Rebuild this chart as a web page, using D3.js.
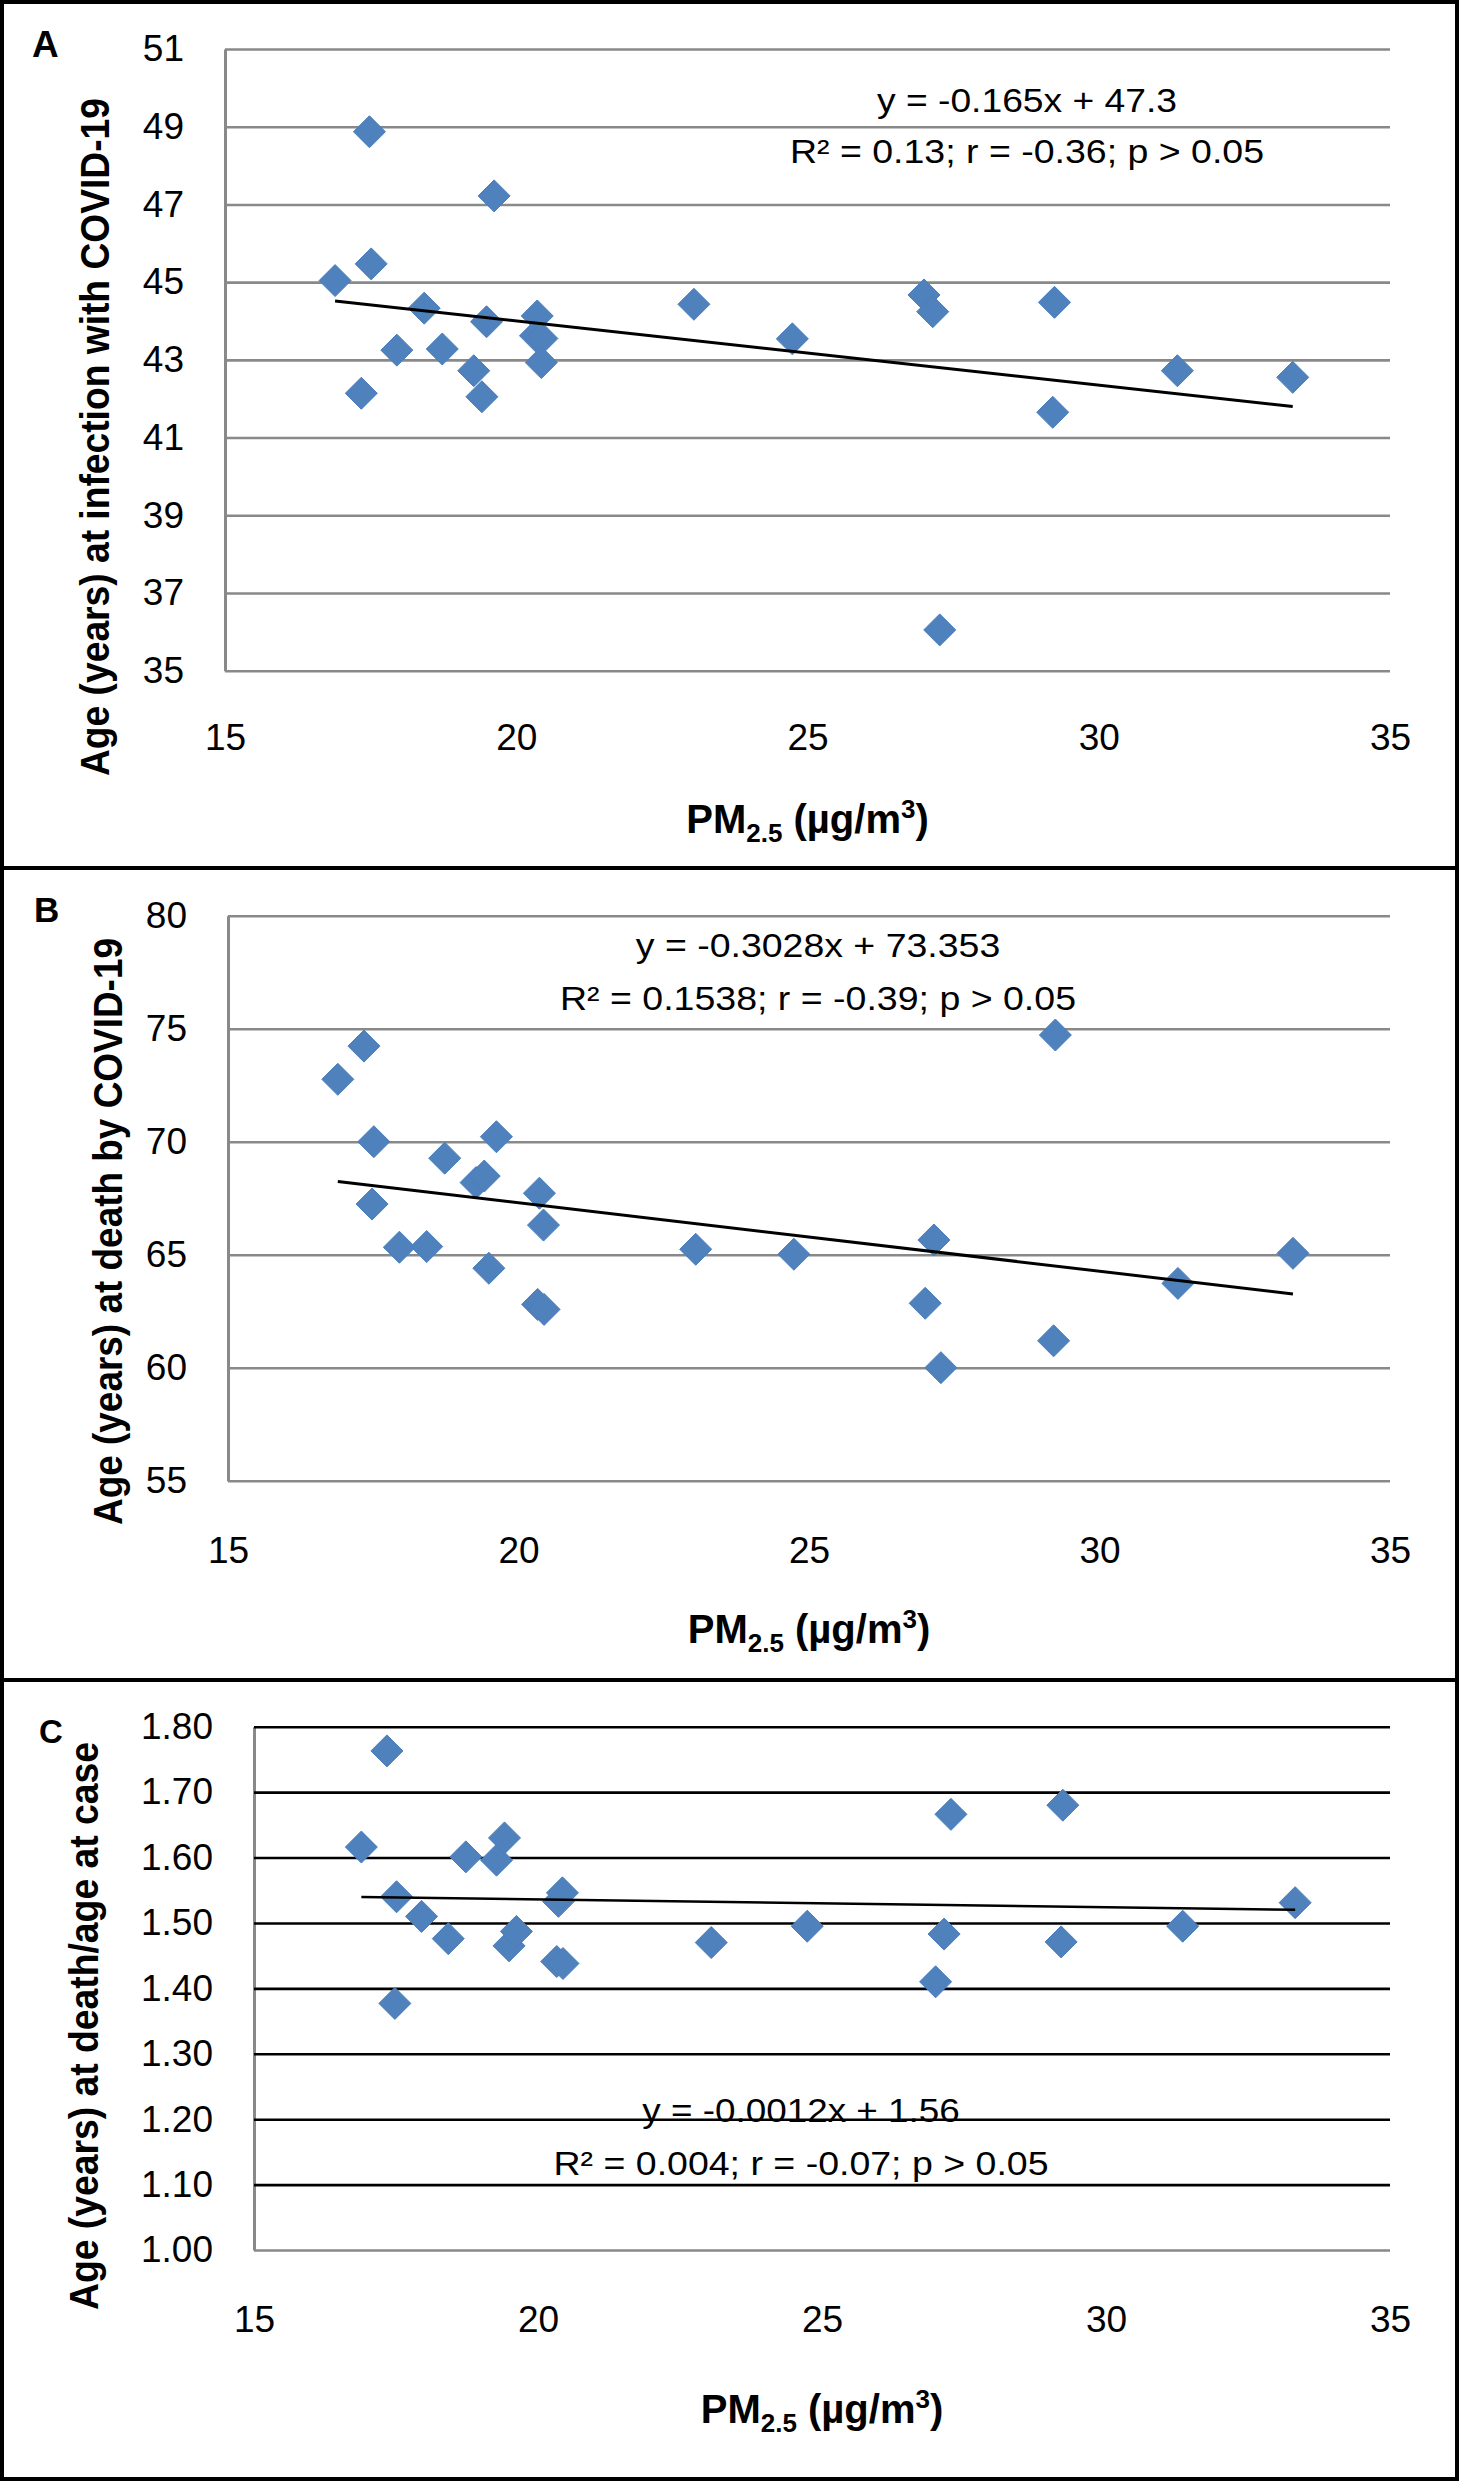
<!DOCTYPE html>
<html><head><meta charset="utf-8">
<script src="https://cdn.jsdelivr.net/npm/d3@7/dist/d3.min.js"></script>
<style>body{margin:0;background:#fff}svg{display:block}</style>
</head><body>
<script>
// ---------------- DATA ----------------
const pm25 = [16.89, 17.34, 17.48, 17.51, 17.95, 18.42, 18.73, 19.27, 19.41, 19.49, 19.62, 20.36, 20.33, 20.44, 20.43, 23.05, 24.74, 27.00, 27.15, 27.27, 29.24, 29.21, 31.35, 33.33];
const ageAtCase = [45.04, 42.14, 48.87, 45.47, 43.25, 44.33, 43.28, 42.72, 42.05, 43.98, 47.22, 44.13, 43.62, 43.55, 42.93, 44.43, 43.54, 44.67, 44.24, 36.05, 44.48, 41.65, 42.72, 42.55];
const ageAtDeath = [72.76, 74.23, 67.24, 70.00, 65.33, 65.36, 69.27, 68.19, 68.48, 64.40, 70.22, 67.72, 62.80, 62.58, 66.31, 65.24, 65.02, 62.85, 65.65, 60.00, 74.72, 61.19, 63.73, 65.06];
const deathToCaseRatio = [1.616, 1.763, 1.377, 1.540, 1.510, 1.476, 1.601, 1.596, 1.630, 1.465, 1.487, 1.533, 1.441, 1.438, 1.546, 1.470, 1.495, 1.410, 1.483, 1.666, 1.680, 1.471, 1.495, 1.531];

const xTicks = [15, 20, 25, 30, 35];
const yTicksA = [35, 37, 39, 41, 43, 45, 47, 49, 51];
const yTicksB = [55, 60, 65, 70, 75, 80];
const yTicksC = [1.0, 1.1, 1.2, 1.3, 1.4, 1.5, 1.6, 1.7, 1.8];

const trendA = [-0.165, 47.3];
const trendB = [-0.3028, 73.353];
const trendC = [-0.0012, 1.56];

const eqA = ["y = -0.165x + 47.3", "R² = 0.13; r = -0.36; p > 0.05"];
const eqB = ["y = -0.3028x + 73.353", "R² = 0.1538; r = -0.39; p > 0.05"];
const eqC = ["y = -0.0012x + 1.56", "R² = 0.004; r = -0.07; p > 0.05"];

const yTitles = ["Age (years) at infection with COVID-19", "Age (years) at death by COVID-19", "Age (years) at death/age at case"];
const panelLabels = ["A", "B", "C"];

// ---------------- LAYOUT ----------------
const W = 1460, H = 2481;
const FONT = "'Liberation Sans', Arial, sans-serif";
const svg = d3.select("body").append("svg").attr("width", W).attr("height", H);
svg.append("rect").attr("width", W).attr("height", H).attr("fill", "#fff");

const panels = [
  {ys: ageAtCase, yDomain: [35, 51], yTicks: yTicksA, fmt: d3.format("d"), trend: trendA, eq: eqA,
   left: 225, right: 1390, top: 49, bottom: 670.7, grid: "#898989",
   eqX: 1027, eqY: [111.7, 163.3], eqW: [300, 474],
   ytX: 109, ytY: 437, ytLen: 678, lab: {x: 32, y: 57, s: 37},
   xTickBase: 750, xTitleY: 833, trendW: 3},
  {ys: ageAtDeath, yDomain: [55, 80], yTicks: yTicksB, fmt: d3.format("d"), trend: trendB, eq: eqB,
   left: 228, right: 1390, top: 915.7, bottom: 1480.7, grid: "#898989",
   eqX: 818, eqY: [956.7, 1010], eqW: [364.5, 516],
   ytX: 122, ytY: 1231.5, ytLen: 587, lab: {x: 34, y: 922, s: 35},
   xTickBase: 1563, xTitleY: 1643, trendW: 3},
  {ys: deathToCaseRatio, yDomain: [1.0, 1.8], yTicks: yTicksC, fmt: d3.format(".2f"), trend: trendC, eq: eqC,
   left: 254, right: 1390, top: 1726.7, bottom: 2250, grid: "#000",
   eqX: 801, eqY: [2121.7, 2175], eqW: [317.5, 495],
   ytX: 98, ytY: 2026, ytLen: 568, lab: {x: 39, y: 1743, s: 33},
   xTickBase: 2332, xTitleY: 2423, trendW: 2.5}
];

const diamond = {draw(ctx, size) { const r = Math.sqrt(size) / 2; ctx.moveTo(0, -r); ctx.lineTo(r, 0); ctx.lineTo(0, r); ctx.lineTo(-r, 0); ctx.closePath(); }};

panels.forEach((p, i) => {
  const w = p.right - p.left, h = p.bottom - p.top;
  const x = d3.scaleLinear().domain([15, 35]).range([0, w]);
  const y = d3.scaleLinear().domain(p.yDomain).range([h, 0]);
  const g = svg.append("g").attr("transform", `translate(${p.left},${p.top})`);

  // y axis with gridlines
  const ya = g.append("g").call(d3.axisLeft(y).tickValues(p.yTicks).tickFormat(p.fmt)
      .tickSizeInner(-w).tickSizeOuter(0).tickPadding(41));
  ya.selectAll(".tick line").attr("stroke", d => (Math.abs(d - p.yDomain[0]) < 1e-9 ? "#898989" : p.grid)).attr("stroke-width", 2.6);
  ya.select(".domain").attr("stroke", "#898989").attr("stroke-width", 3);
  ya.selectAll(".tick text").attr("font-family", FONT).attr("font-size", 37).attr("fill", "#000");

  // x axis labels
  const xa = g.append("g").attr("transform", `translate(0,${h})`)
    .call(d3.axisBottom(x).tickValues(xTicks).tickFormat(d3.format("d")).tickSize(0).tickPadding(p.xTickBase - p.bottom - 37 * 0.71));
  xa.select(".domain").remove();
  xa.selectAll(".tick text").attr("font-family", FONT).attr("font-size", 37).attr("fill", "#000");

  // points
  g.append("g").selectAll("path").data(pm25.map((v, k) => [v, p.ys[k]])).join("path")
    .attr("transform", d => `translate(${x(d[0])},${y(d[1])})`)
    .attr("d", d3.symbol(diamond, 32 * 32)())
    .attr("fill", "#4F81BD").attr("stroke", "#4A7EBB").attr("stroke-width", 1);

  // trend line
  const ext = d3.extent(pm25);
  g.append("path").datum(ext.map(v => [v, p.trend[0] * v + p.trend[1]]))
    .attr("d", d3.line().x(d => x(d[0])).y(d => y(d[1])))
    .attr("stroke", "#000").attr("stroke-width", p.trendW).attr("fill", "none");

  // equation text
  p.eq.forEach((t, j) => {
    svg.append("text").attr("x", p.eqX).attr("y", p.eqY[j]).attr("text-anchor", "middle")
      .attr("font-family", FONT).attr("font-size", 34).attr("fill", "#000")
      .attr("textLength", p.eqW[j]).attr("lengthAdjust", "spacingAndGlyphs").text(t);
  });

  // y title
  svg.append("text").attr("transform", `translate(${p.ytX},${p.ytY}) rotate(-90)`)
    .attr("text-anchor", "middle").attr("font-family", FONT).attr("font-weight", "bold")
    .attr("font-size", 40).attr("fill", "#000")
    .attr("textLength", p.ytLen).attr("lengthAdjust", "spacingAndGlyphs").text(yTitles[i]);

  // x title
  const xt = svg.append("text").attr("x", (p.left + p.right) / 2).attr("y", p.xTitleY)
    .attr("text-anchor", "middle").attr("font-family", FONT).attr("font-weight", "bold")
    .attr("font-size", 40).attr("fill", "#000");
  xt.append("tspan").text("PM");
  xt.append("tspan").attr("dy", 9).attr("font-size", 26).text("2.5");
  xt.append("tspan").attr("dy", -9).text(" (µg/m");
  xt.append("tspan").attr("dy", -15).attr("font-size", 26).text("3");
  xt.append("tspan").attr("dy", 15).text(")");

  // panel label
  svg.append("text").attr("x", p.lab.x).attr("y", p.lab.y).attr("font-family", FONT)
    .attr("font-weight", "bold").attr("font-size", p.lab.s).attr("fill", "#000").text(panelLabels[i]);
});

// frame and separators
svg.append("rect").attr("x", 2).attr("y", 2).attr("width", 1455).attr("height", 2477)
  .attr("fill", "none").attr("stroke", "#000").attr("stroke-width", 4);
[868, 1680].forEach(yy => svg.append("line").attr("x1", 0).attr("x2", 1459).attr("y1", yy).attr("y2", yy)
  .attr("stroke", "#000").attr("stroke-width", 4));
</script>
</body></html>
